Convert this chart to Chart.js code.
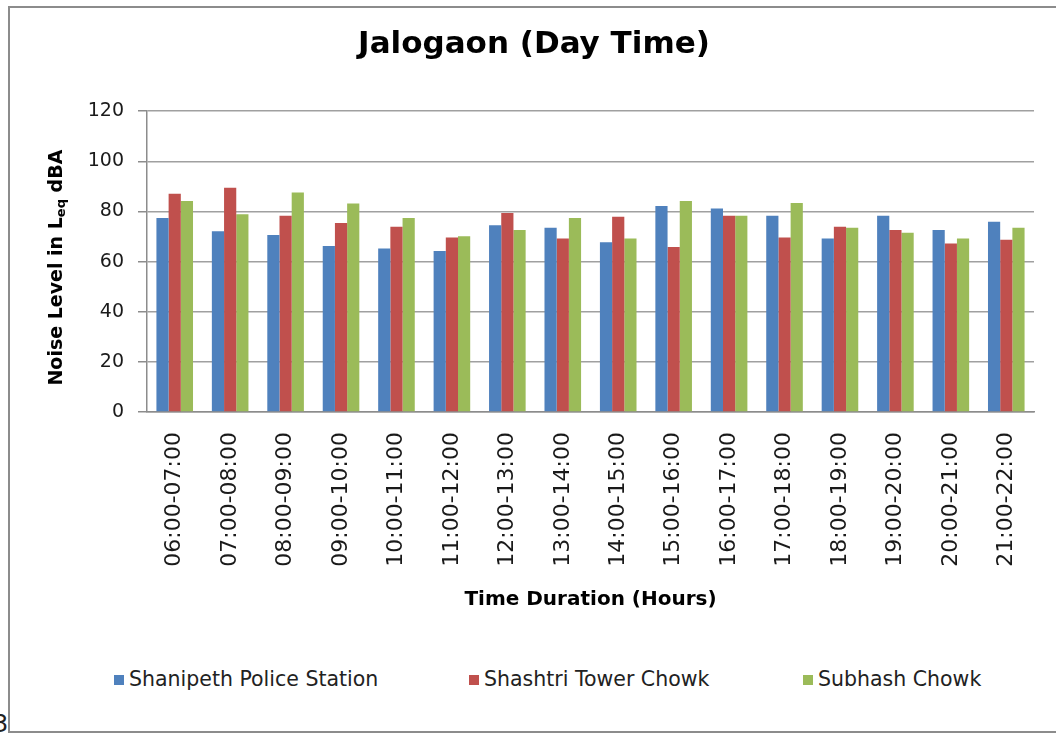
<!DOCTYPE html>
<html>
<head>
<meta charset="utf-8">
<title>Jalogaon (Day Time)</title>
<script src="https://cdn.jsdelivr.net/npm/chart.js@4"></script>
<style>
    html, body { margin: 0; padding: 0; background: #fff; overflow: hidden; width: 1056px; height: 736px; }
    #frame {
        position: absolute; left: 8px; top: 6px; width: 1060px; height: 723px;
        border: 2px solid #8c8c8c; background: #fff;
    }
    #chartBox { position: absolute; left: 0; top: 0; width: 1048px; height: 612px; }
    .legend-item {
        position: absolute; top: 658px; font-family: "DejaVu Sans", Verdana, sans-serif;
        font-size: 20.5px; color: #222; white-space: nowrap; line-height: 26px;
    }
    .legend-item i { display: inline-block; width: 10px; height: 10px; margin-right: 5px; vertical-align: 1px; }
    #stray { position: absolute; left: -7px; top: 710px; font-family: "DejaVu Sans", sans-serif; font-size: 24px; color: #222; }
</style>
</head>
<body>
<div id="frame">
    <div id="chartBox"><canvas id="noiseChart"></canvas></div>
    <div id="legend"></div>
</div>
<div id="stray">3</div>

<script>
// --- data ---
const timeSlots = [
    '06:00-07:00', '07:00-08:00', '08:00-09:00', '09:00-10:00',
    '10:00-11:00', '11:00-12:00', '12:00-13:00', '13:00-14:00',
    '14:00-15:00', '15:00-16:00', '16:00-17:00', '17:00-18:00',
    '18:00-19:00', '19:00-20:00', '20:00-21:00', '21:00-22:00'
];
const seriesNames = ['Shanipeth Police Station', 'Shashtri Tower Chowk', 'Subhash Chowk'];
const seriesColors = ['#4F81BD', '#C0504D', '#9BBB59'];

const shanipeth = [77.4, 72.1, 70.6, 66.2, 65.2, 64.2, 74.5, 73.5, 67.7, 82.2, 81.2, 78.3, 69.2, 78.3, 72.6, 75.9];
const shashtri  = [87.1, 89.5, 78.3, 75.4, 73.9, 69.6, 79.4, 69.2, 77.9, 65.8, 78.3, 69.6, 73.9, 72.6, 67.2, 68.7];
const subhash   = [84.2, 78.9, 87.6, 83.2, 77.4, 70.1, 72.6, 77.4, 69.2, 84.2, 78.3, 83.4, 73.5, 71.5, 69.2, 73.5];

const yMin = 0, yMax = 120, yStep = 20;

const FONT = '"DejaVu Sans", Verdana, sans-serif';

// y axis title with a subscript "eq" (Chart.js titles cannot do subscripts)
const yTitlePlugin = {
    id: 'yTitle',
    afterDraw(chart) {
        const ctx = chart.ctx;
        const area = chart.chartArea;
        const parts = [
            { text: 'Noise Level in L', size: 19, shift: 0 },
            { text: 'eq', size: 13, shift: 5 },
            { text: ' dBA', size: 19, shift: 0 }
        ];
        ctx.save();
        let total = 0;
        parts.forEach(p => {
            ctx.font = `bold ${p.size}px ${FONT}`;
            p.w = ctx.measureText(p.text).width;
            total += p.w;
        });
        const cx = 47;
        const cy = (area.top + area.bottom) / 2 + 6;
        ctx.translate(cx, cy);
        ctx.rotate(-Math.PI / 2);
        ctx.fillStyle = '#000';
        ctx.textBaseline = 'middle';
        ctx.textAlign = 'left';
        let x = -total / 2;
        parts.forEach(p => {
            ctx.font = `bold ${p.size}px ${FONT}`;
            ctx.fillText(p.text, x, p.shift);
            x += p.w;
        });
        ctx.restore();
    }
};

function buildLegend() {
    const lefts = [104, 459, 793];
    const box = document.getElementById('legend');
    seriesNames.forEach((name, i) => {
        const item = document.createElement('div');
        item.className = 'legend-item';
        item.style.left = lefts[i] + 'px';
        item.innerHTML = `<i style="background:${seriesColors[i]}"></i>${name}`;
        box.appendChild(item);
    });
}

function renderChart() {
    const ctx = document.getElementById('noiseChart').getContext('2d');
    const values = [shanipeth, shashtri, subhash];

    new Chart(ctx, {
        type: 'bar',
        data: {
            labels: timeSlots,
            datasets: seriesNames.map((name, i) => ({
                label: name,
                data: values[i],
                backgroundColor: seriesColors[i],
                borderWidth: 0,
                categoryPercentage: 0.66,
                barPercentage: 1.0
            }))
        },
        options: {
            responsive: true,
            maintainAspectRatio: false,
            animation: false,
            layout: { padding: { top: 0, right: 24, bottom: 0, left: 24 } },
            plugins: {
                legend: { display: false },
                tooltip: { enabled: false },
                title: {
                    display: true,
                    text: 'Jalogaon (Day Time)',
                    color: '#000',
                    font: { family: FONT, size: 31, weight: 'bold' },
                    padding: { top: 18, bottom: 48 }
                }
            },
            scales: {
                x: {
                    grid: { display: false },
                    border: { display: true, color: '#8c8c8c', width: 1.5 },
                    ticks: {
                        color: '#1a1a1a',
                        font: { family: FONT, size: 22 },
                        minRotation: 90,
                        maxRotation: 90,
                        autoSkip: false,
                        padding: 12
                    },
                    title: {
                        display: true,
                        text: 'Time Duration (Hours)',
                        color: '#000',
                        font: { family: FONT, size: 20, weight: 'bold' },
                        padding: { top: 0, bottom: 8 }
                    },
                    afterFit(scale) { scale.height = 208; }
                },
                y: {
                    min: yMin,
                    max: yMax,
                    grid: { color: '#a0a0a0', lineWidth: 1.5, drawTicks: true, tickLength: 9, tickColor: '#8c8c8c' },
                    border: { display: true, color: '#8c8c8c', width: 1.5 },
                    ticks: {
                        stepSize: yStep,
                        color: '#1a1a1a',
                        font: { family: FONT, size: 19 },
                        padding: 14
                    },
                    afterFit(scale) { scale.width = 113; }
                }
            }
        },
        plugins: [yTitlePlugin]
    });
}

buildLegend();
renderChart();
</script>
</body>
</html>
